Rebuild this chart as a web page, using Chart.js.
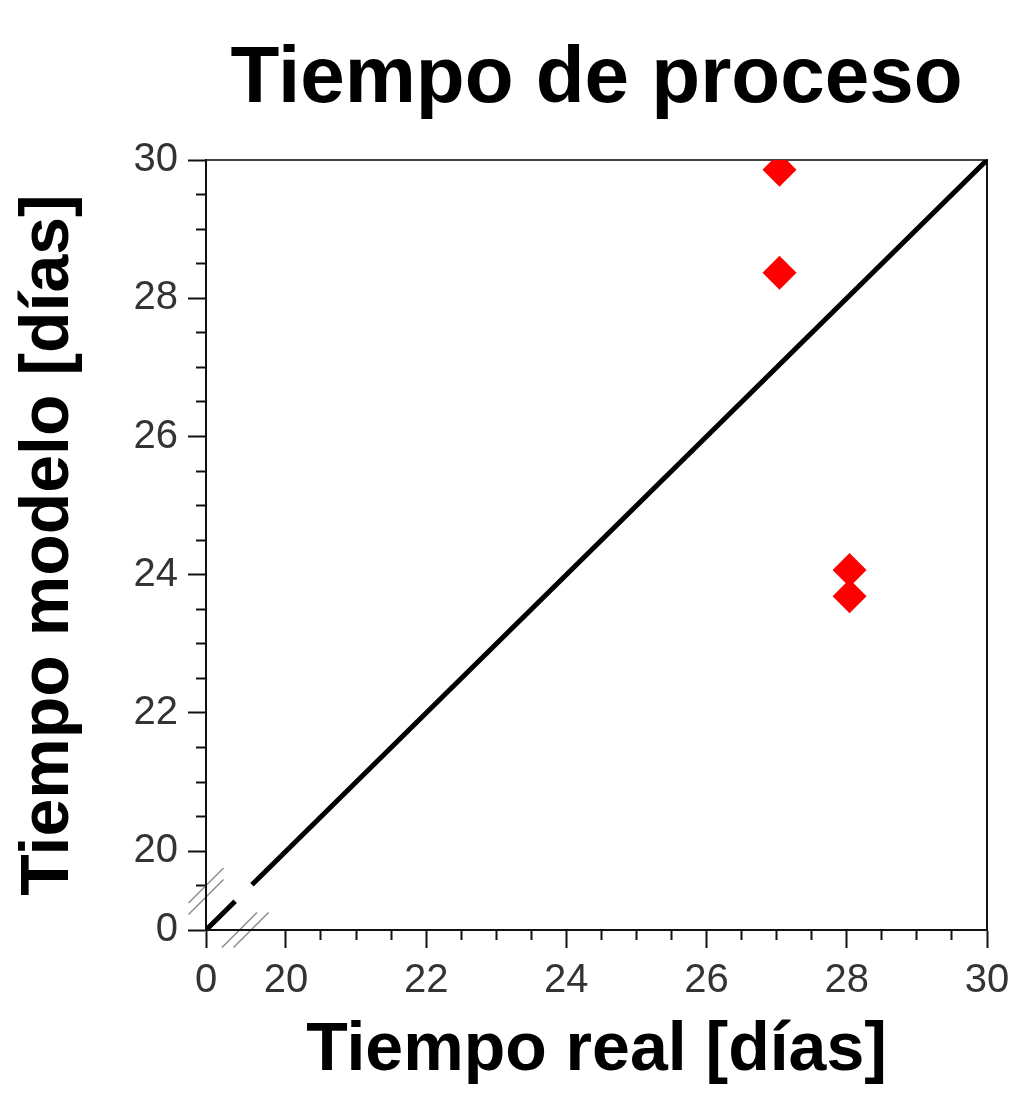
<!DOCTYPE html>
<html lang="es">
<head>
<meta charset="UTF-8">
<meta name="viewport" content="width=device-width, initial-scale=1.0">
<title>Tiempo de proceso</title>
<style>
  html, body { margin: 0; padding: 0; background: #fff; }
</style>
</head>
<body>
<canvas id="canvas" width="1011" height="1095"></canvas>
<script src="https://cdn.jsdelivr.net/npm/chart.js@4.4.1/dist/chart.umd.min.js"></script>
<script>
'use strict';

// measured points: real time vs model time (days)
var realDays = [27.04, 27.04, 28.04, 28.04];
var modelDays = [29.86, 28.37, 24.07, 23.69];

// y = x reference line, with a gap where the axes are cut
var lineDays = [0, 7.3, null, 11.5, 30];

var majorTicks = [0, 20, 22, 24, 26, 28, 30];
// minor ticks are in axis units (19.5 lies inside the cut)
var xMinorTicks = [20.5, 21, 21.5, 22.5, 23, 23.5, 24.5, 25, 25.5, 26.5, 27, 27.5, 28.5, 29, 29.5];
var yMinorTicks = [19.5, 20.5, 21, 21.5, 22.5, 23, 23.5, 24.5, 25, 25.5, 26.5, 27, 27.5, 28.5, 29, 29.5];

var AXIS_START = 18.86; // axis position of 0 once 0..20 is squeezed
var BREAK_AT = 19.42;   // where the // marks sit
var FONT = '"Liberation Sans", Arial, Helvetica, sans-serif';

function toAxis(v) {
  if (v === null) return null;
  return v >= 20 ? v : AXIS_START + v / 20 * (20 - AXIS_START);
}

function setTicks(values) {
  return function(scale) {
    scale.ticks = values.map(function(v) { return { value: v }; });
  };
}

function tickLabel(value) {
  if (Math.abs(value - AXIS_START) < 1e-6) return '0';
  return String(value);
}

var breakMarks = {
  id: 'breakMarks',
  beforeDatasetsDraw: function(chart) {
    var ctx = chart.ctx;
    var area = chart.chartArea;
    var cx, cy;
    function seg(x1, y1, x2, y2) {
      ctx.beginPath();
      ctx.moveTo(x1, y1);
      ctx.lineTo(x2, y2);
      ctx.stroke();
    }
    ctx.save();
    ctx.strokeStyle = '#8c8c8c';
    ctx.lineWidth = 1.5;
    cx = area.left;
    cy = chart.scales.y.getPixelForValue(BREAK_AT);
    [-5.8, 5.8].forEach(function(d) {
      seg(cx - 17.5, cy + d + 17.5, cx + 17.5, cy + d - 17.5);
    });
    cx = chart.scales.x.getPixelForValue(BREAK_AT);
    cy = area.bottom;
    [-5.8, 5.8].forEach(function(d) {
      seg(cx + d - 17.5, cy + 17.5, cx + d + 17.5, cy - 17.5);
    });
    ctx.restore();
  }
};

var tickFont = { family: FONT, size: 40 };
var titleFont = { family: FONT, size: 68, weight: 'bold' };

var config = {
  type: 'scatter',
  data: {
    datasets: [{
      type: 'line',
      data: lineDays.map(function(v) { return { x: toAxis(v), y: toAxis(v) }; }),
      borderColor: '#000',
      borderWidth: 5,
      borderCapStyle: 'butt',
      pointRadius: 0,
      fill: false,
      spanGaps: false,
      tension: 0
    }, {
      data: realDays.map(function(v, i) { return { x: toAxis(v), y: toAxis(modelDays[i]) }; }),
      pointStyle: 'rectRot',
      pointRadius: 17,
      backgroundColor: '#ff0000',
      borderWidth: 0,
      clip: 0
    }]
  },
  options: {
    responsive: false,
    animation: false,
    layout: { padding: { top: 0, left: 0, right: 24, bottom: 0 } },
    plugins: {
      legend: { display: false },
      tooltip: { enabled: false },
      title: {
        display: true,
        text: 'Tiempo de proceso',
        fullSize: false,
        color: '#000',
        font: { family: FONT, size: 80, weight: 'bold' },
        padding: { top: 32, bottom: 32 }
      }
    },
    scales: {
      x: {
        type: 'linear', position: 'bottom', weight: 1,
        min: AXIS_START, max: 30, bounds: 'data',
        afterBuildTicks: setTicks(majorTicks.map(toAxis)),
        afterFit: function(s) {
          s.height = 165;
          s.paddingLeft = 0;
          s.paddingRight = 0;
        },
        grid: { drawOnChartArea: false, tickLength: 18, tickWidth: 2, tickColor: '#111' },
        border: { display: true, color: '#111', width: 2, z: 1 },
        ticks: { autoSkip: false, maxRotation: 0, padding: 9, color: '#333', font: tickFont, callback: tickLabel },
        title: { display: true, text: 'Tiempo real [días]', color: '#000', font: titleFont, padding: { top: 0, bottom: 3 } }
      },
      xm: {
        type: 'linear', position: 'bottom', weight: 0,
        min: AXIS_START, max: 30, bounds: 'data',
        afterBuildTicks: setTicks(xMinorTicks),
        afterFit: function(s) { s.height = 0; },
        grid: { drawOnChartArea: false, tickLength: 10, tickWidth: 2, tickColor: '#111' },
        border: { display: false },
        ticks: { display: false, autoSkip: false }
      },
      xt: {
        type: 'linear', position: 'top',
        min: AXIS_START, max: 30,
        afterFit: function(s) { s.height = 0; },
        grid: { drawOnChartArea: false, drawTicks: false },
        border: { display: true, color: '#444', width: 2 },
        ticks: { display: false }
      },
      y: {
        type: 'linear', position: 'left', weight: 1,
        min: AXIS_START, max: 30, bounds: 'data',
        afterBuildTicks: setTicks(majorTicks.map(toAxis)),
        afterFit: function(s) { s.width = 206; },
        grid: { drawOnChartArea: false, tickLength: 18, tickWidth: 2, tickColor: '#111' },
        border: { display: true, color: '#111', width: 2, z: 1 },
        ticks: { autoSkip: false, padding: 10, color: '#333', font: tickFont, callback: tickLabel },
        title: { display: true, text: 'Tiempo modelo [días]', color: '#000', font: titleFont, padding: { top: 8, bottom: 0 } }
      },
      ym: {
        type: 'linear', position: 'left', weight: 0,
        min: AXIS_START, max: 30, bounds: 'data',
        afterBuildTicks: setTicks(yMinorTicks),
        afterFit: function(s) { s.width = 0; },
        grid: { drawOnChartArea: false, tickLength: 10, tickWidth: 2, tickColor: '#111' },
        border: { display: false },
        ticks: { display: false, autoSkip: false }
      },
      yr: {
        type: 'linear', position: 'right',
        min: AXIS_START, max: 30,
        afterFit: function(s) { s.width = 0; },
        grid: { drawOnChartArea: false, drawTicks: false },
        border: { display: true, color: '#111', width: 2 },
        ticks: { display: false }
      }
    }
  },
  plugins: [breakMarks]
};

var ctx = document.getElementById('canvas').getContext('2d');
var chart = new Chart(ctx, config);
</script>
</body>
</html>
